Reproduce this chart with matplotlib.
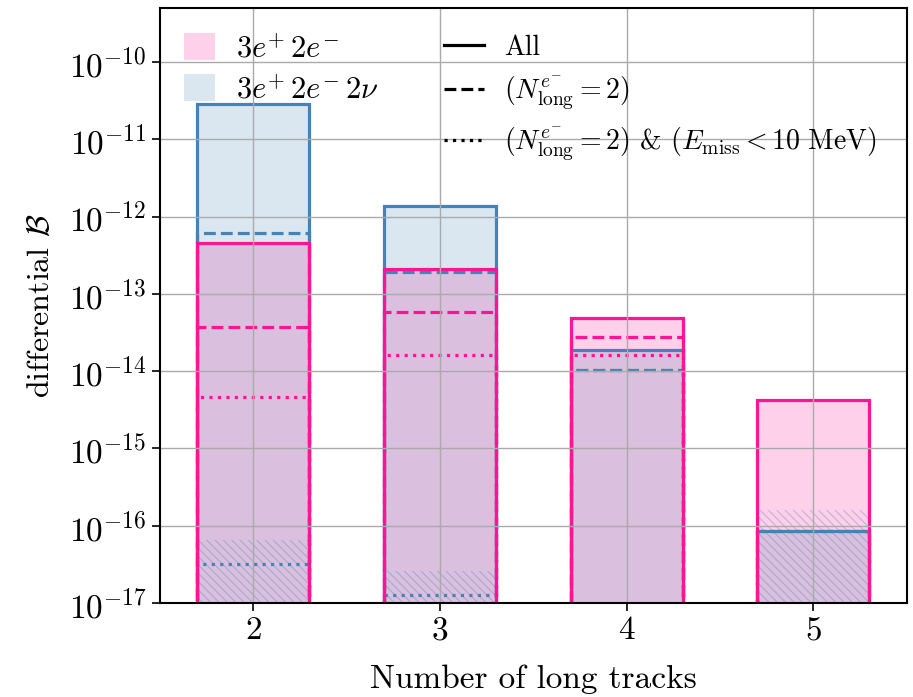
import numpy as np
import matplotlib
matplotlib.use("Agg")
import matplotlib.pyplot as plt
from matplotlib.patches import Patch
from matplotlib.lines import Line2D
from matplotlib.ticker import NullLocator

plt.rcParams['font.family'] = 'serif'
plt.rcParams['font.serif'] = ['cmr10']
plt.rcParams['mathtext.fontset'] = 'cm'
plt.rcParams['axes.formatter.use_mathtext'] = True
plt.rcParams['hatch.linewidth'] = 0.8

n_tracks = [2, 3, 4, 5]

# 3e+ 2e-
pink_all = [4.5e-13, 2.1e-13, 4.9e-14, 4.2e-15]
pink_n2 = [3.7e-14, 5.8e-14, 2.8e-14, 0]
pink_n2_emiss = [4.6e-15, 1.6e-14, 1.6e-14, 0]

# 3e+ 2e- 2nu
blue_all = [2.85e-11, 1.37e-12, 1.9e-14, 8.4e-17]
blue_n2 = [6.1e-13, 1.9e-13, 1.03e-14, 8.4e-17]
blue_n2_emiss = [3.2e-17, 1.26e-17, 1.03e-14, 8.4e-17]
blue_band = [6.5e-17, 2.6e-17, 0, 1.6e-16]

yticks = [1e-17, 1e-16, 1e-15, 1e-14, 1e-13, 1e-12, 1e-11, 1e-10]

pink = '#ff1493'
blue = '#4682b4'
w = 0.6

fig = plt.figure(figsize=(9.13, 6.97), dpi=100)
ax = fig.add_axes([0.175, 0.135, 0.818, 0.8535])

ax.bar(n_tracks, pink_all, width=w, color=pink, alpha=0.2, linewidth=0)
ax.bar(n_tracks, blue_all, width=w, color=blue, alpha=0.2, linewidth=0)
ax.bar(n_tracks, blue_band, width=w, fill=False, hatch='\\\\\\\\',
       edgecolor=(0.27, 0.51, 0.71, 0.35), linewidth=0)

lw = 2.3
for vals, ls in [(blue_all, '-'), (blue_n2, '--'), (blue_n2_emiss, ':')]:
    ax.bar(n_tracks, vals, width=w, fill=False, edgecolor=blue, linewidth=lw, linestyle=ls)
for vals, ls in [(pink_all, '-'), (pink_n2, '--'), (pink_n2_emiss, ':')]:
    ax.bar(n_tracks, vals, width=w, fill=False, edgecolor=pink, linewidth=lw, linestyle=ls)

ax.set_yscale('log')
ax.set_ylim(1e-17, 10**-9.3)
ax.set_xlim(1.5, 5.5)
ax.set_xticks(n_tracks)
ax.set_yticks(yticks)
ax.yaxis.set_minor_locator(NullLocator())
ax.tick_params(labelsize=24, width=1.2, length=6)
ax.grid(True, color='#aaaaaa', linewidth=1.0)
for s in ax.spines.values():
    s.set_linewidth(1.5)

ax.set_xlabel('Number of long tracks', fontsize=24, labelpad=14)
ax.set_ylabel(r'differential $\mathcal{B}$', fontsize=23, labelpad=10)

proc_handles = [Patch(facecolor=pink, alpha=0.2, edgecolor='none'),
                Patch(facecolor=blue, alpha=0.2, edgecolor='none')]
proc_labels = [r'$3e^{+}\,2e^{-}$', r'$3e^{+}\,2e^{-}\,2\nu$']
leg1 = ax.legend(proc_handles, proc_labels, loc='upper left', bbox_to_anchor=(-0.004, 1.004),
                 frameon=False, fontsize=22, handlelength=1.0, handleheight=1.0,
                 handletextpad=0.7, labelspacing=0.35)
ax.add_artist(leg1)

cut_handles = [Line2D([], [], color='k', linestyle=ls, linewidth=2.3) for ls in ['-', '--', ':']]
cut_labels = ['All', r'$(N_{\rm long}^{e^{-}}=2)$',
              r'$(N_{\rm long}^{e^{-}}=2)$ & $(E_{\rm miss}<10\ \mathrm{MeV})$']
ax.legend(cut_handles, cut_labels, loc='upper left', bbox_to_anchor=(0.347, 0.998),
          frameon=False, fontsize=20, handlelength=1.45, handletextpad=0.7,
          labelspacing=0.5)

fig.savefig('out.png', dpi=100)
